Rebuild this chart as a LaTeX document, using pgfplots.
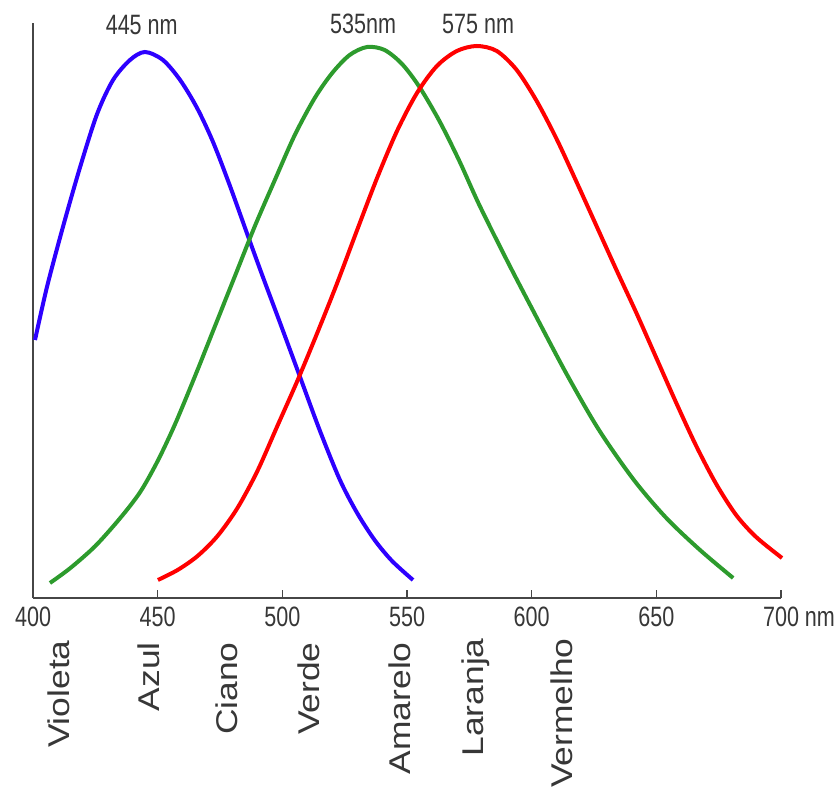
\documentclass[border=0pt]{standalone}
\usepackage{fontspec}
\setmainfont{Liberation Sans}
\newfontfamily\condfont{Liberation Sans}[FakeStretch=0.77]
\newfontfamily\widefont{Liberation Sans}[FakeStretch=1.18]
\usepackage{pgfplots}
\pgfplotsset{compat=1.18}
\definecolor{cblue}{RGB}{45,0,255}
\definecolor{cgreen}{RGB}{45,155,45}
\definecolor{cred}{RGB}{255,0,0}
\definecolor{txt}{RGB}{55,55,55}
\definecolor{axc}{RGB}{70,70,70}
\begin{document}
\begin{tikzpicture}
\begin{axis}[
  scale only axis, width=374pt, height=287.5pt,
  xmin=400, xmax=700, ymin=0, ymax=575,
  axis x line=bottom, axis y line=left,
  axis line style={-, axc, line width=1pt},
  ytick=\empty,
  xtick={400,450,500,550,600,650,700},
  xticklabels={400,450,500,550,600,650,{700\rlap{ nm}}},
  xticklabel style={font=\condfont\fontsize{14}{14}\selectfont, text=txt, yshift=-1pt},
  tick style={axc, line width=0.8pt},
  major tick length=4pt, xtick align=inside,
  clip=false,
]
\addplot[cblue, line width=2pt, smooth] coordinates {
(400.8,258) (405.6,311) (412.0,371) (418.9,431) (425.7,484) (432.1,518) (438.9,538)
(444.9,546) (452.1,538) (459.0,518) (465.8,490) (472.2,456) (479.0,412) (486.2,362)
(492.2,321) (499.1,275) (507.1,221) (515.1,167) (523.1,118) (530,85) (537,58) (544,37) (552.4,18)};
\addplot[cgreen, line width=2pt, smooth] coordinates {
(406.8,15) (415,30) (425,52) (435,80) (443,106) (450,137) (457,174) (465,222) (473,272)
(481,322) (489,372) (497,418) (505,463) (513,500) (520,525) (527,543) (534,551) (541,548)
(548,534) (555,511) (563,477) (571,437) (579,393) (590,338) (600,290) (614,224) (627,168)
(641,118) (654,80) (667.5,48) (680.8,20)};
\addplot[cred, line width=2pt, smooth] coordinates {
(450.1,18) (458,28) (466,42) (474,62) (482,90) (490,127) (498,172) (506,217) (514,265)
(522,315) (530,368) (538,420) (546,467) (554,505) (562,532) (570,547) (578,552) (586,547)
(594,528) (602,497) (610,459) (618,416) (626,372) (634,328) (642,285) (650,240) (658,195)
(666,152) (674,114) (682,83) (690,61) (700.4,40)};
\begin{scope}[every node/.style={font=\condfont\fontsize{14}{14}\selectfont, text=txt}]
\node at (axis cs:443.6,573) {445 nm};
\node at (axis cs:532.4,574) {535nm};
\node at (axis cs:578.5,574) {575 nm};
\end{scope}
\begin{scope}[every node/.style={font=\widefont\fontsize{15}{15}\selectfont, text=txt, rotate=90, anchor=base east, inner sep=0pt}]
\node at (axis cs:414.8,-42) {Violeta};
\node at (axis cs:450.9,-44) {Azul};
\node at (axis cs:482.2,-44) {Ciano};
\node at (axis cs:515.1,-44) {Verde};
\node at (axis cs:551.2,-44) {Amarelo};
\node at (axis cs:580.5,-40) {Laranja};
\node at (axis cs:616.2,-40) {Vermelho};
\end{scope}
\coordinate (BL) at (axis cs:386.76,-203);
\coordinate (TR) at (axis cs:722.06,598);
\end{axis}
\pgfresetboundingbox
\useasboundingbox (BL) rectangle (TR);
\end{tikzpicture}
\end{document}
